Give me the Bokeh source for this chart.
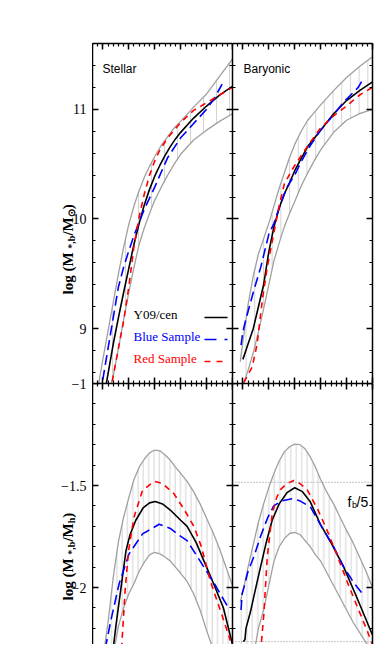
import math
from bokeh.plotting import figure
from bokeh.layouts import row, column
from bokeh.models import Range1d, LinearAxis, FixedTicker, Label, Span
from bokeh.embed import file_html
from bokeh.resources import INLINE

# ---------------- data ----------------
X_RANGE = (9.6, 15.0)          # log M_h
TOP_Y = (8.5, 11.6)            # log M_{*,b}
BOT_Y = (-2.279, -1.0)         # log M_{*,b}/M_h

x_major = [10, 11, 12, 13, 14, 15]
top_major = [9, 10, 11]
bot_major = [-2, -1.5, -1]
top_tick_text = ["9", "10", "11"]
bot_tick_text = ["\u22122", "\u22121.5", "\u22121"]

legend_names = ["Y09/cen", "Blue Sample", "Red Sample"]
panel_names = ["Stellar", "Baryonic"]
fb_levels = [-1.484, -2.265]

# --- Stellar: M* vs Mh ---
st_black_x = [10.0, 10.2, 10.4, 10.6, 10.8, 11.0, 11.2, 11.4, 11.6, 11.8, 12.0, 12.2, 12.4, 12.6, 12.8, 13.0, 13.5, 14.0, 14.5, 15.0]
st_black_y = [8.32, 8.59, 8.86, 9.10, 9.33, 9.55, 9.77, 9.96, 10.13, 10.27, 10.39, 10.49, 10.58, 10.66, 10.73, 10.79, 10.92, 11.03, 11.13, 11.21]
st_red_x = [10.3, 10.4, 10.6, 10.8, 11.0, 11.2, 11.4, 11.6, 11.8, 12.0, 12.2, 12.5, 13.0, 13.5, 14.0, 14.5, 15.0]
st_red_y = [8.42, 8.57, 8.82, 9.07, 9.38, 9.75, 10.02, 10.23, 10.40, 10.53, 10.63, 10.74, 10.88, 10.99, 11.06, 11.13, 11.20]
st_blue_x = [9.9, 10.0, 10.2, 10.4, 10.6, 10.8, 11.0, 11.2, 11.4, 11.6, 11.8, 12.0, 12.2, 12.5, 13.0, 13.5, 14.0, 14.3, 14.6]
st_blue_y = [8.40, 8.54, 8.82, 9.10, 9.38, 9.56, 9.71, 9.85, 9.97, 10.09, 10.19, 10.29, 10.40, 10.56, 10.74, 10.87, 11.00, 11.10, 11.23]
st_band_x = [9.8, 10.0, 10.2, 10.4, 10.6, 10.8, 11.0, 11.2, 11.4, 11.6, 11.8, 12.0, 12.25, 12.5, 12.75, 13.0, 13.5, 14.0, 14.5, 15.0]
st_band_hi = [8.45, 8.72, 8.98, 9.24, 9.50, 9.74, 9.95, 10.12, 10.26, 10.38, 10.48, 10.57, 10.67, 10.75, 10.83, 10.89, 11.02, 11.14, 11.30, 11.46]
st_band_lo = [7.90, 8.15, 8.40, 8.57, 8.82, 9.08, 9.33, 9.56, 9.77, 9.92, 10.05, 10.17, 10.29, 10.40, 10.50, 10.59, 10.72, 10.81, 10.89, 10.96]

# --- Baryonic: Mb vs Mh ---
ba_black_x = [10.0, 10.2, 10.4, 10.6, 10.8, 11.0, 11.2, 11.4, 11.6, 11.8, 12.0, 12.2, 12.5, 13.0, 13.5, 14.0, 14.5, 15.0]
ba_black_y = [8.72, 8.86, 9.00, 9.20, 9.40, 9.70, 9.93, 10.10, 10.23, 10.33, 10.44, 10.53, 10.66, 10.81, 10.96, 11.08, 11.17, 11.25]
ba_red_x = [10.04, 10.2, 10.36, 10.55, 10.75, 10.94, 11.2, 11.4, 11.6, 11.9, 12.2, 12.6, 13.0, 13.5, 14.0, 14.5, 15.0]
ba_red_y = [8.51, 8.58, 8.65, 8.86, 9.26, 9.56, 9.88, 10.12, 10.32, 10.45, 10.56, 10.70, 10.83, 10.94, 11.03, 11.13, 11.20]
ba_blue_x = [9.93, 10.0, 10.1, 10.4, 10.7, 11.0, 11.2, 11.4, 11.7, 12.0, 12.2, 12.6, 13.0, 13.5, 13.9, 14.2, 14.45, 14.67]
ba_blue_y = [8.85, 8.97, 9.07, 9.33, 9.57, 9.86, 9.96, 10.10, 10.29, 10.40, 10.50, 10.67, 10.81, 10.95, 11.07, 11.14, 11.20, 11.29]
ba_band_x = [9.9, 10.0, 10.2, 10.4, 10.6, 10.8, 11.0, 11.2, 11.4, 11.6, 11.8, 12.0, 12.25, 12.5, 12.75, 13.0, 13.5, 14.0, 14.5, 15.0]
ba_band_hi = [8.70, 8.88, 9.22, 9.48, 9.68, 9.82, 9.96, 10.12, 10.28, 10.42, 10.56, 10.68, 10.80, 10.90, 10.97, 11.04, 11.17, 11.29, 11.39, 11.48]
ba_band_lo = [8.40, 8.48, 8.62, 8.78, 8.97, 9.18, 9.40, 9.62, 9.78, 9.93, 10.05, 10.16, 10.30, 10.42, 10.53, 10.63, 10.79, 10.90, 10.96, 11.00]

# --- Stellar ratio ---
rs_black_x = [10.38, 10.5, 10.69, 10.89, 11.05, 11.27, 11.55, 11.8, 12.02, 12.3, 12.6, 13.0, 13.25, 13.6, 14.0, 14.3, 14.65, 15.0]
rs_black_y = [-2.32, -2.19, -2.01, -1.82, -1.74, -1.67, -1.61, -1.585, -1.578, -1.59, -1.62, -1.67, -1.70, -1.78, -1.90, -1.99, -2.10, -2.28]
rs_red_x = [10.72, 10.86, 10.99, 11.2, 11.53, 11.98, 12.3, 12.74, 13.1, 13.51, 13.8, 14.15, 14.5, 14.92]
rs_red_y = [-2.30, -2.01, -1.82, -1.655, -1.524, -1.479, -1.49, -1.54, -1.61, -1.70, -1.80, -1.97, -2.10, -2.26]
rs_blue_x = [10.09, 10.31, 10.63, 11.01, 11.53, 12.17, 12.6, 12.9, 13.25, 13.6, 14.0, 14.3, 14.52, 14.85]
rs_blue_y = [-2.30, -2.16, -1.98, -1.835, -1.737, -1.69, -1.71, -1.74, -1.77, -1.84, -1.92, -1.98, -2.03, -2.10]
rs_band_x = [9.8, 10.0, 10.2, 10.4, 10.6, 10.8, 11.0, 11.2, 11.4, 11.6, 11.8, 12.0, 12.2, 12.4, 12.6, 12.8, 13.0, 13.25, 13.5, 13.75, 14.0, 14.25, 14.5, 14.75, 15.0]
rs_band_hi = [-2.62, -2.35, -2.17, -1.95, -1.775, -1.655, -1.56, -1.47, -1.41, -1.37, -1.34, -1.326, -1.33, -1.35, -1.375, -1.41, -1.44, -1.48, -1.53, -1.59, -1.66, -1.73, -1.81, -1.90, -1.99]
rs_band_lo = [-2.75, -2.61, -2.47, -2.33, -2.19, -2.10, -2.03, -1.98, -1.92, -1.875, -1.84, -1.827, -1.835, -1.85, -1.87, -1.90, -1.93, -1.97, -2.03, -2.11, -2.21, -2.30, -2.38, -2.46, -2.55]

# --- Baryonic ratio ---
rb_black_x = [10.02, 10.08, 10.12, 10.29, 10.5, 10.68, 10.9, 11.13, 11.4, 11.7, 12.0, 12.3, 12.6, 12.99, 13.4, 13.89, 14.4, 14.99]
rb_black_y = [-2.265, -2.255, -2.20, -2.12, -2.00, -1.90, -1.78, -1.67, -1.59, -1.535, -1.511, -1.53, -1.58, -1.69, -1.78, -1.90, -2.05, -2.23]
rb_red_x = [10.68, 10.81, 10.94, 11.13, 11.3, 11.45, 11.7, 11.97, 12.2, 12.48, 12.9, 13.25, 13.6, 14.02, 14.4, 14.79, 15.0]
rb_red_y = [-2.32, -2.13, -1.85, -1.64, -1.56, -1.52, -1.49, -1.475, -1.49, -1.52, -1.62, -1.72, -1.83, -1.97, -2.09, -2.21, -2.28]
rb_blue_x = [9.93, 9.97, 10.04, 10.2, 10.42, 10.68, 10.95, 11.19, 11.5, 11.9, 12.2, 12.61, 13.12, 13.5, 13.89, 14.3, 14.67]
rb_blue_y = [-2.11, -2.03, -2.00, -1.92, -1.85, -1.75, -1.66, -1.60, -1.575, -1.565, -1.575, -1.606, -1.72, -1.80, -1.90, -1.98, -2.04]
rb_band_x = [9.9, 10.0, 10.2, 10.4, 10.6, 10.8, 11.0, 11.2, 11.4, 11.6, 11.8, 12.0, 12.2, 12.4, 12.6, 12.8, 13.0, 13.25, 13.5, 13.75, 14.0, 14.25, 14.5, 14.75, 15.0]
rb_band_hi = [-2.07, -2.02, -1.90, -1.79, -1.68, -1.59, -1.51, -1.44, -1.38, -1.335, -1.31, -1.297, -1.30, -1.32, -1.36, -1.41, -1.47, -1.535, -1.59, -1.655, -1.72, -1.78, -1.85, -1.92, -2.00]
rb_band_lo = [-2.70, -2.62, -2.48, -2.34, -2.20, -2.11, -1.99, -1.87, -1.80, -1.76, -1.735, -1.73, -1.74, -1.77, -1.80, -1.84, -1.87, -1.93, -1.99, -2.05, -2.11, -2.17, -2.22, -2.27, -2.32]

# ---------------- styling / layout ----------------
BLACK, BLUE, RED, GRAY, HATCH = "#000000", "#0000ff", "#ff0000", "#a0a0a0", "#d4d4d4"
SERIF = "Liberation Serif"
SANS = "Liberation Sans"
LEFT_W = 92            # label column width (px)
FRAME_W, TOP_H, BOT_H = 140, 340, 261
TOP_B = 43
TOTAL_H = TOP_B + TOP_H + BOT_H


def frange(a, b, step):
    out, v = [], a
    while v <= b + 1e-9:
        out.append(round(v, 3))
        v += step
    return out


x_minor = frange(9.6, 15.0, 0.2)
top_minor = frange(8.6, 11.6, 0.2)
bot_minor = frange(-2.2, -1.0, 0.1)


def make_fig(width, height, mr, mt, yr):
    p = figure(width=width, height=height, x_range=Range1d(*X_RANGE), y_range=Range1d(*yr),
               output_backend="svg", toolbar_location=None,
               x_axis_location=None, y_axis_location=None,
               min_border_left=0, min_border_right=mr, min_border_top=mt, min_border_bottom=0)
    p.outline_line_color = None
    p.background_fill_color = "white"
    p.border_fill_color = "white"
    p.xgrid.visible = False
    p.ygrid.visible = False
    return p


def add_axis(p, side, major, minor):
    ax = LinearAxis(ticker=FixedTicker(ticks=major, minor_ticks=minor))
    ax.major_tick_in = 6
    ax.major_tick_out = 0
    ax.minor_tick_in = 3
    ax.minor_tick_out = 0
    ax.axis_line_width = 1.5
    ax.axis_line_color = BLACK
    ax.major_tick_line_width = 1.5
    ax.minor_tick_line_width = 1.2
    ax.major_tick_line_color = BLACK
    ax.minor_tick_line_color = BLACK
    ax.major_label_text_color = None
    ax.major_label_text_font_size = "0px"
    ax.major_label_standoff = 0
    p.add_layout(ax, side)


def draw_panel(p, band_x, band_lo, band_hi, hatch_gap, curves):
    p.varea(x=band_x, y1=band_lo, y2=band_hi, fill_color=None, fill_alpha=0,
            hatch_pattern="vertical_line", hatch_color=HATCH, hatch_weight=1, hatch_scale=hatch_gap)
    p.line(band_x, band_hi, line_color=GRAY, line_width=1.3)
    p.line(band_x, band_lo, line_color=GRAY, line_width=1.3)
    for (xs, ys, col, dash) in curves:
        p.line(xs, ys, line_color=col, line_width=1.6, line_dash=dash)


# --- panels ---
tl = make_fig(FRAME_W, TOP_B + TOP_H, 0, TOP_B, TOP_Y)
tr = make_fig(FRAME_W + 2, TOP_B + TOP_H, 2, TOP_B, TOP_Y)
bl = make_fig(FRAME_W, BOT_H, 0, 0, BOT_Y)
br = make_fig(FRAME_W + 2, BOT_H, 2, 0, BOT_Y)

for p, ymaj, ymin in [(tl, top_major, top_minor), (tr, top_major, top_minor),
                      (bl, bot_major, bot_minor), (br, bot_major, bot_minor)]:
    add_axis(p, "left", ymaj, ymin)
    add_axis(p, "right", ymaj, ymin)
for p in (tl, tr):
    add_axis(p, "above", x_major, x_minor)
    add_axis(p, "below", x_major, x_minor)
for p in (bl, br):
    add_axis(p, "above", x_major, x_minor)

draw_panel(tl, st_band_x, st_band_lo, st_band_hi, 13,
           [(st_black_x, st_black_y, BLACK, "solid"),
            (st_blue_x, st_blue_y, BLUE, "10 5"),
            (st_red_x, st_red_y, RED, "6 5")])
draw_panel(tr, ba_band_x, ba_band_lo, ba_band_hi, 8.7,
           [(ba_black_x, ba_black_y, BLACK, "solid"),
            (ba_blue_x, ba_blue_y, BLUE, "10 5"),
            (ba_red_x, ba_red_y, RED, "6 5")])
draw_panel(bl, rs_band_x, rs_band_lo, rs_band_hi, 5.3,
           [(rs_black_x, rs_black_y, BLACK, "solid"),
            (rs_blue_x, rs_blue_y, BLUE, "10 5"),
            (rs_red_x, rs_red_y, RED, "6 5")])
draw_panel(br, rb_band_x, rb_band_lo, rb_band_hi, 5.5,
           [(rb_black_x, rb_black_y, BLACK, "solid"),
            (rb_blue_x, rb_blue_y, BLUE, "10 5"),
            (rb_red_x, rb_red_y, RED, "6 5")])

for lvl in fb_levels:
    br.add_layout(Span(location=lvl, dimension="width", line_color="#888888",
                       line_dash="1 2", line_width=1))


# pixel helpers (page px -> data) for annotations inside panels
def xl(px):
    return X_RANGE[0] + (px - 92) * (X_RANGE[1] - X_RANGE[0]) / FRAME_W


def xr(px):
    return X_RANGE[0] + (px - 232) * (X_RANGE[1] - X_RANGE[0]) / FRAME_W


def yt(py):
    return TOP_Y[1] - (py - TOP_B) * (TOP_Y[1] - TOP_Y[0]) / TOP_H


def yb(py):
    return BOT_Y[1] - (py - (TOP_B + TOP_H)) * (BOT_Y[1] - BOT_Y[0]) / BOT_H


# panel names
tl.add_layout(Label(x=xl(102), y=yt(68), text=panel_names[0], text_font=SANS, text_color=BLACK,
                    text_font_size="12px", text_baseline="middle"))
tr.add_layout(Label(x=xr(243), y=yt(68), text=panel_names[1], text_font=SANS, text_color=BLACK,
                    text_font_size="12px", text_baseline="middle"))

# legend (text left, sample right)
leg_py = [314, 336, 358]
leg_cols = [BLACK, BLUE, RED]
leg_dash = ["solid", "12 8", "6 6"]
for name, py, col, dash in zip(legend_names, leg_py, leg_cols, leg_dash):
    tl.add_layout(Label(x=xl(133), y=yt(py), text=name, text_font=SERIF, text_font_size="13px",
                        text_color=col, text_baseline="middle"))
    tl.line([xl(204), xl(227)], [yt(py + 3), yt(py + 3)], line_color=col, line_width=1.6, line_dash=dash)

# f_b/5 label
br.add_layout(Label(x=xr(347), y=yb(501), text="f", text_font=SANS, text_font_size="14px",
                    text_color=BLACK, text_baseline="alphabetic"))
br.add_layout(Label(x=xr(351.5), y=yb(504), text="b", text_font=SANS, text_font_size="9px",
                    text_color=BLACK, text_baseline="alphabetic"))
br.add_layout(Label(x=xr(356), y=yb(501), text="/5", text_font=SANS, text_font_size="14px",
                    text_color=BLACK, text_baseline="alphabetic"))


# --- left label column: tick labels + rotated axis titles, placed through shared scales ---
def ext(lo, hi, top_px, h_px):
    per = (hi - lo) / h_px
    return (lo - (TOTAL_H - (top_px + h_px)) * per, hi + top_px * per)


top_ext = ext(TOP_Y[0], TOP_Y[1], TOP_B, TOP_H)
bot_ext = ext(BOT_Y[0], BOT_Y[1], TOP_B + TOP_H, BOT_H)

lab = figure(width=LEFT_W, height=TOTAL_H, x_range=Range1d(0, LEFT_W), y_range=Range1d(*top_ext),
             output_backend="svg", toolbar_location=None, x_axis_location=None, y_axis_location=None,
             min_border_left=0, min_border_right=0, min_border_top=0, min_border_bottom=0)
lab.extra_y_ranges = {"bot": Range1d(*bot_ext)}
lab.outline_line_color = None
lab.xgrid.visible = False
lab.ygrid.visible = False

for v, t in zip(top_major, top_tick_text):
    lab.add_layout(Label(x=86, y=v, text=t, text_font=SERIF, text_font_size="14px", text_color=BLACK,
                         text_align="right", text_baseline="middle"))
for v, t in zip(bot_major, bot_tick_text):
    lab.add_layout(Label(x=86, y=v, y_range_name="bot", text=t, text_font=SERIF, text_font_size="14px",
                         text_color=BLACK, text_align="right", text_baseline="middle"))

# approximate advance widths (em) of Liberation Serif Bold, to chain label pieces
EM = {"l": .278, "o": .5, "g": .5, " ": .25, "(": .333, "M": .944, "*": .5, ",": .25, "b": .556,
      "/": .278, ")": .333, "h": .556, "\u2299": .8}
BIG, SMALL = 15, 10


def ylabel(start_py, pieces, rng):
    py = start_py
    for txt, small in pieces:
        size = SMALL if small else BIG
        yv = yt(py) if rng == "default" else yb(py)
        lab.add_layout(Label(x=(70.5 if small else 67), y=yv, y_range_name=rng, text=txt, angle=math.pi / 2,
                             text_font=SERIF, text_font_style="bold", text_font_size=f"{size}px",
                             text_color=BLACK, text_align="left", text_baseline="alphabetic"))
        py -= sum(EM.get(c, .5) for c in txt) * size


ylabel(294, [("log  (M", False), ("*,b", True), ("/M", False), ("\u2299", True), (")", False)], "default")
ylabel(600, [("log  (M", False), ("*,b", True), ("/M", False), ("h", True), (")", False)], "bot")

layout = row(lab, column(row(tl, tr, spacing=0), row(bl, br, spacing=0), spacing=0), spacing=0)
open("out.html", "w").write(file_html(layout, INLINE))
